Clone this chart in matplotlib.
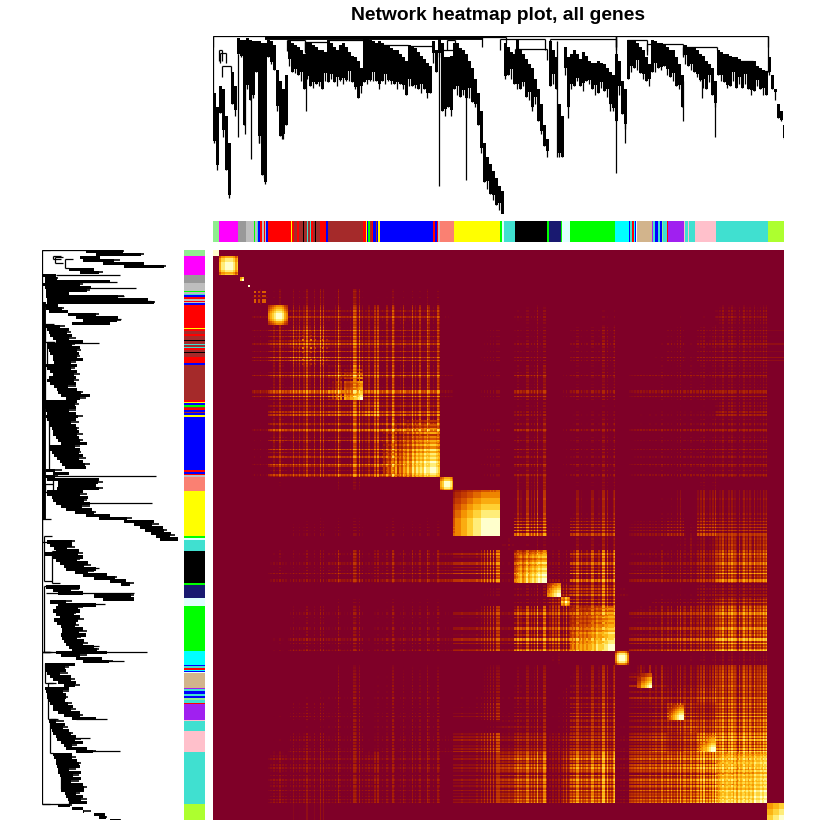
import numpy as np
import matplotlib
matplotlib.use("Agg")
import matplotlib.pyplot as plt
from matplotlib.colors import LinearSegmentedColormap

LIME = "#00FF00"; PURPLE = "#A020F0"; G1 = "#999999"; G2 = "#BEBEBE"
BAND_COLORS = ["lightgreen","magenta",G1,G2,LIME,G2,"turquoise","blue","red",G2,"red",G2,"blue",
 "red","yellow","red","brown","red","brown","black","brown","turquoise","brown","turquoise","red","brown","black","brown","red","blue",
 "brown","red","yellow","blue",LIME,"brown","red","blue","brown","blue","yellow",
 "blue","red","blue","red",G2,"salmon","yellow",LIME,"lightcyan","turquoise",
 "black",LIME,"midnightblue",LIME,"lightcyan",LIME,"cyan","blue","turquoise","red","cyan","blue","lightcyan","tan",
 PURPLE,"turquoise","blue","turquoise","blue","lightgreen","turquoise","red",PURPLE,"pink","turquoise","pink","turquoise","pink",
 "turquoise","greenyellow"]
BAND_SIZES = [18,57,24,24,3,6,3,6,6,6,3,3,6,
 69,4,5,9,6,12,3,9,3,6,3,6,6,3,12,18,6,
 105,8,3,5,5,5,5,7,3,5,5,
 159,6,6,3,6,42,138,6,6,33,
 96,6,37,2,24,135,42,3,6,6,3,3,3,44,
 4,6,9,6,6,4,10,3,49,3,10,3,18,62,
 155,49]

BLOCK_NAMES = ["lgreen","magenta","dgrey","grey","mix1","red","mix2","brown","mix3","blue","salmon","yellow",
 "tqmix","black","midnight","lcyan","green","cyan","tan","mix7","purple","mix8","pink","turquoise","gyellow"]
BLOCK_SIZES = [6,19,8,6,16,20,40,35,17,60,13,47,14,33,14,9,45,14,23,15,17,13,19,51,17]
# inside-module strength, one digit per slice of the module
BLOCK_RAMP = ["999","6889999867","0790","090","07060770","5678999865",
 "02030407060705020604","203040506556677899","010203045",
 "13243546354657586878798899987","6799986","455566677788889999999999",
 "3443534","45675686787898999","567899","76976",
 "45465656566768777889999","5899985","001144667899","01020504",
 "345678999","2314253","3456678999","56767877686878787879889899","777888999"]
# between-module strength, one digit per slice of the module
BLOCK_STRIPE = ["0000","000000000000","00000","0000","03010401020","0205030704030",
 "030714062050804017020908030","30205094012030409970905","04060308090",
 "0300620095001407300208050370020960040085","010302010","0000020000100003005070809090999",
 "020103010","3060402077050609030880","050706080","060805",
 "3040770502040077030500990804079","010203010","010203040302050","3050207040",
 "50603070805","604070505","6070805060709","6475946085967508469570864957685979","00000000000"]
# link strength between modules, upper triangle by rows
BLOCK_LINKS = ["9000000000000000000000000","900000000000000000000000","90000000000000000000000",
 "9000000000000000000000","744423000100101011110",
 "96656310311212222230","8766220311310232334",
 "977320412313333330","87210311212222230",
 "9220412313333330","900511311211320",
 "90721513342540","6312410334460","933824444570",
 "95732222330","9712333450","925566680","93223330","9655670","666770","97680","8780","990","90","9"]

TREE_TOP = [32,40,28,30,45,60,20,28,1,2,2,1,2,3,3,3,4,4,2,3,5,19,25,30,22,3,4,5,6,8,10,4,4,5,6,8,8,9,2,4,6,8,5,4,6,9,11,12,14,18,
 1,1,2,3,4,3,4,5,5,7,8,8,10,12,14,5,6,7,9,11,13,15,17,3,8,1,4,12,12,11,4,4,7,8,10,14,18,24,32,42,60,68,72,76,80,84,87,
 4,6,9,10,2,8,10,13,16,18,24,30,38,50,58,3,8,12,38,45,6,12,10,8,10,13,9,11,14,15,15,14,15,16,18,20,22,10,14,25,30,
 2,3,3,4,6,8,12,16,2,3,4,4,5,6,8,8,12,16,22,5,6,6,7,8,10,11,14,16,18,25,8,9,10,10,11,12,12,13,14,14,14,14,14,17,18,19,20,12,22,30,38,42,50]
TREE_TIP = [60,75,43,57,75,91,38,45,10,12,50,30,36,35,20,60,78,83,12,16,19,42,56,58,50,17,20,21,22,25,30,24,28,29,27,28,30,25,26,24,26,28,25,27,25,25,26,30,35,32,
 26,27,25,25,25,30,25,27,25,27,27,30,27,30,33,28,28,29,30,32,30,35,32,15,20,12,42,45,40,45,30,33,34,33,35,35,37,40,50,66,82,86,89,92,95,98,100,
 24,22,24,27,30,30,28,34,36,40,38,48,55,62,68,28,27,30,68,68,22,40,30,28,25,28,31,25,27,30,33,32,29,31,34,38,42,48,33,44,52,
 24,20,18,19,21,24,25,28,20,20,18,19,17,22,23,25,28,30,40,16,17,19,20,23,25,29,30,26,33,40,22,25,26,29,28,25,29,27,29,27,30,33,31,28,30,33,33,22,30,36,46,48,58]
# how far the thin tip of each column reaches past its solid part
TREE_TEETH = ("13050204010"
 "30205010203040503060204030"
 "50306040702050306040702050"
 "30502060407030504060307020"
 "40603050207040306050204070"
 "30504020603070405020603040"
 "70305060204050307040206050"
 "30402060507030405020601")
SPIKE_POS = [0,25,32,38,46,51,69,93,226,253,319,344,355,397,403,412,470,489,502,555]
SPIKE_TOP = [0,10,5,30,20,10,30,20,0,30,30,3,30,25,0,30,25,20,35,0]
SPIKE_TIP = [46,57,55,69,60,80,58,42,84,81,42,68,46,42,77,60,48,35,57,20]
LINK_START = [6,7,9,74,92,115,167,195,227,234,269,287,302,337,403,414,434,470,504,540,0]
LINK_END = [9,13,18,92,115,150,195,219,240,242,293,332,334,403,555,434,470,504,540,555,403]
LINK_HEIGHT = [8,9.4,17,2.5,3.5,2.5,4.8,5.4,8,2,0.3,1.7,7.4,1.7,0,2.2,4.5,6,14,19.5,0]

TITLE = "Network heatmap plot, all genes"

fig = plt.figure(figsize=(8.4, 8.4), dpi=100)
def ax_px(x0, y0, x1, y1):
    a = fig.add_axes([x0/840, 1-y1/840, (x1-x0)/840, (y1-y0)/840])
    a.set_axis_off()
    return a

sizes = np.array(BLOCK_SIZES)
edges = np.concatenate([[0], np.cumsum(sizes)])
n = edges[-1]
def spread(strings):
    out = np.zeros(n)
    for b, s in enumerate(strings):
        vals = np.array([int(c) for c in s]) / 9
        out[edges[b]:edges[b+1]] = vals[np.arange(sizes[b]) * len(vals) // sizes[b]]
    return out
ramp = spread(BLOCK_RAMP)
stripe = spread(BLOCK_STRIPE)
block_of = np.repeat(np.arange(len(sizes)), sizes)
M = np.zeros((len(sizes), len(sizes)))
for i, row in enumerate(BLOCK_LINKS):
    for k, c in enumerate(row):
        if i + k < len(sizes):
            M[i, i+k] = M[i+k, i] = int(c) / 9
links = M[np.ix_(block_of, block_of)]
both = np.maximum.outer(stripe, stripe)
Z = links * (0.5 * both + 0.4 * np.outer(stripe, stripe))
same = block_of[:, None] == block_of[None, :]
Z[same] = np.maximum(Z[same], (links * np.outer(ramp, ramp))[same])

cmap = LinearSegmentedColormap.from_list("tom", [(0, "#7F0028"), (0.14, "#7F0028"), (0.24, "#A01808"),
    (0.42, "#D04800"), (0.58, "#F59000"), (0.75, "#FFC820"), (0.9, "#FFF080"), (1, "#FFFFCC")])
ax = ax_px(213, 250, 784, 820)
ax.imshow(Z, cmap=cmap, vmin=0, vmax=1, interpolation="nearest", aspect="auto", extent=(0, n, n, 0))

pos = np.cumsum([0] + BAND_SIZES)[:-1] / 3
wid = np.array(BAND_SIZES) / 3
total = wid.sum()
a = ax_px(213, 221, 784, 242)
a.bar(pos, 1, width=wid, align="edge", color=BAND_COLORS, linewidth=0)
a.set_xlim(0, total); a.set_ylim(0, 1)
a = ax_px(184, 250, 205, 820)
a.barh(pos, 1, height=wid, align="edge", color=BAND_COLORS, linewidth=0)
a.set_ylim(total, 0); a.set_xlim(0, 1)

col = np.arange(len(TREE_TOP)) * 3
top = np.array(TREE_TOP, float); tip = np.array(TREE_TIP, float)
teeth = np.array([int(TREE_TEETH[i % len(TREE_TEETH)]) for i in range(len(top))], float) * 0.8
def tree(a, vertical):
    lw = 0.9
    body = np.maximum(tip - teeth, top + 1)
    drops = []
    for s, e, h in zip(LINK_START, LINK_END, LINK_HEIGHT):
        for p in (s, e):
            j = min(p // 3, len(top)-1)
            drops.append((p, h, max(h, min(top[j], h + 6))))
    dp, d0, d1 = zip(*drops)
    if vertical:
        a.bar(col, body-top, bottom=top, width=3.2, align="edge", color="k", linewidth=0)
        a.vlines(col + 1, top, tip, color="k", lw=lw)
        a.vlines(SPIKE_POS, SPIKE_TOP, SPIKE_TIP, color="k", lw=lw)
        a.hlines(LINK_HEIGHT, LINK_START, LINK_END, color="k", lw=lw)
        a.hlines([0.6, 1.2, 1.8], 52, 270, color="k", lw=lw*1.5)
        a.vlines(dp, d0, d1, color="k", lw=lw)
        a.set_xlim(0, 571); a.set_ylim(100, 0)
    else:
        a.barh(col, body-top, left=top, height=3.2, align="edge", color="k", linewidth=0)
        a.hlines(col + 1, top, tip, color="k", lw=lw*1.3)
        a.hlines(SPIKE_POS, SPIKE_TOP, SPIKE_TIP, color="k", lw=lw)
        a.vlines(LINK_HEIGHT, LINK_START, LINK_END, color="k", lw=lw)
        a.vlines([0.8, 1.6, 2.4], 52, 270, color="k", lw=lw*1.5)
        a.hlines(dp, d0, d1, color="k", lw=lw)
        a.set_ylim(571, 0); a.set_xlim(0, 100)
tree(ax_px(213, 36, 784, 214), True)
tree(ax_px(42, 250, 178, 820), False)

fig.text(498/840, 1-15/840, TITLE, ha="center", va="center", fontsize=13.9, fontweight="bold", family="Liberation Sans")
fig.savefig("out.png", dpi=100, facecolor="white")
